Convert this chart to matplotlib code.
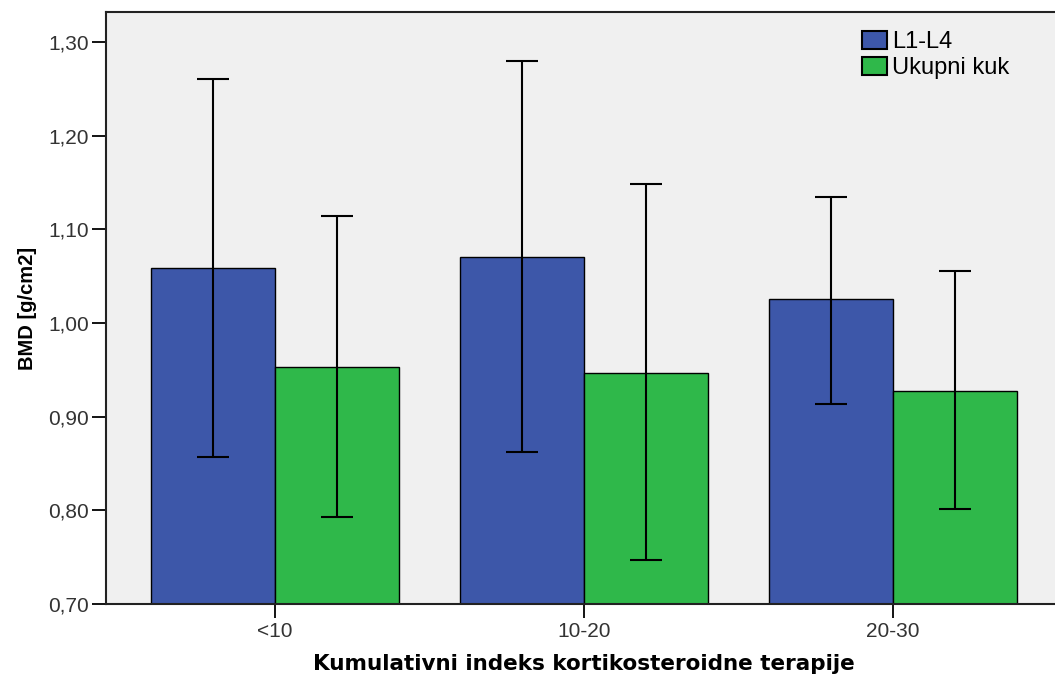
import matplotlib
matplotlib.use("Agg")
import matplotlib.pyplot as plt
import numpy as np
from matplotlib.ticker import FuncFormatter

categories = ["<10", "10-20", "20-30"]
series_names = ["L1-L4", "Ukupni kuk"]

l1l4_mean = [1.059, 1.071, 1.026]
l1l4_low = [0.857, 0.862, 0.914]
l1l4_high = [1.261, 1.280, 1.135]

kuk_mean = [0.953, 0.947, 0.928]
kuk_low = [0.793, 0.747, 0.802]
kuk_high = [1.114, 1.148, 1.056]

BLUE = "#3D57A9"
GREEN = "#2FB84A"

plt.rcParams["font.family"] = ["Liberation Sans", "DejaVu Sans"]

fig = plt.figure(figsize=(10.55, 6.75), dpi=100)
ax = fig.add_axes([0.1005, 0.105, 0.9061, 0.877])
ax.set_facecolor("#F0F0F0")

x = np.arange(len(categories))
width = 0.4

for offset, means, lows, highs, color, name in [
    (-width / 2, l1l4_mean, l1l4_low, l1l4_high, BLUE, series_names[0]),
    (width / 2, kuk_mean, kuk_low, kuk_high, GREEN, series_names[1]),
]:
    means = np.asarray(means)
    err = [means - np.asarray(lows), np.asarray(highs) - means]
    ax.bar(x + offset, means - 0.7, width, bottom=0.7, color=color,
           edgecolor="black", linewidth=1.0, label=name, zorder=2)
    ax.errorbar(x + offset, means, yerr=err, fmt="none", ecolor="black",
                elinewidth=1.5, capsize=11.5, capthick=1.5, zorder=3)

ax.set_xlim(-0.547, 2.547)
ax.set_ylim(0.70, 1.332)
ax.set_xticks(x)
ax.set_xticklabels(categories)
ax.set_yticks(np.arange(0.70, 1.31, 0.10))
ax.yaxis.set_major_formatter(FuncFormatter(lambda v, p: f"{v:.2f}".replace(".", ",")))

ax.tick_params(axis="both", direction="out", length=10, width=1.3,
               labelsize=15, labelcolor="#333333")
ax.tick_params(axis="y", pad=2)
ax.tick_params(axis="x", pad=3)
for side in ["left", "bottom", "top", "right"]:
    ax.spines[side].set_linewidth(1.5)
    ax.spines[side].set_color("#222222")

ax.set_ylabel("BMD [g/cm2]", fontsize=14.5, fontweight="bold", labelpad=8)
ax.set_xlabel("Kumulativni indeks kortikosteroidne terapije", fontsize=15.5,
              fontweight="bold", labelpad=9, family="DejaVu Sans")

leg = ax.legend(loc="upper left", bbox_to_anchor=(0.791, 0.968), frameon=False,
                fontsize=17, handlelength=1.05, handleheight=0.8,
                handletextpad=0.2, labelspacing=0.15, borderaxespad=0,
                borderpad=0)
for h in leg.legend_handles:
    h.set_linewidth(1.5)

fig.savefig("out.png", dpi=100)
